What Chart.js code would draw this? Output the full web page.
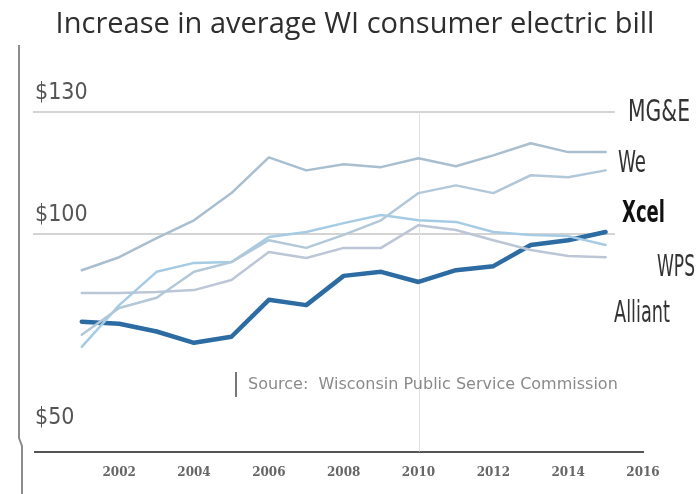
<!DOCTYPE html>
<html>
<head>
<meta charset="utf-8">
<script src="https://cdn.jsdelivr.net/npm/chart.js@4.4.0/dist/chart.umd.min.js"></script>
<style>
  html, body { margin: 0; padding: 0; background: #fff; }
  #wrap { width: 700px; height: 494px; }
</style>
</head>
<body>
<div id="wrap"><canvas id="myChart" width="700" height="494"></canvas></div>
<script>
// values (average monthly bill, $)
const years = [2001, 2002, 2003, 2004, 2005, 2006, 2007, 2008, 2009, 2010, 2011, 2012, 2013, 2014, 2015]
const mge     = [91.1, 94.3, 99.0, 103.4, 110.1, 118.9, 115.7, 117.2, 116.5, 118.7, 116.7, 119.4, 122.4, 120.2, 120.2]
const we      = [75.2, 81.8, 84.3, 90.7, 93.1, 98.5, 96.6, 99.8, 103.4, 110.1, 112.0, 110.1, 114.5, 114.0, 115.7]
const wps     = [72.2, 82.5, 90.7, 92.9, 93.1, 99.3, 100.5, 102.7, 104.7, 103.4, 103.0, 100.5, 99.8, 99.5, 97.3]
const alliant = [85.5, 85.5, 85.7, 86.2, 88.7, 95.6, 94.1, 96.6, 96.6, 102.2, 101.0, 98.5, 96.1, 94.6, 94.3]
const xcel    = [78.4, 77.9, 76.0, 73.2, 74.7, 83.8, 82.5, 89.7, 90.7, 88.2, 91.1, 92.1, 97.3, 98.5, 100.5]

const yTicks = [50, 100, 130]
const gridValues = [100, 130]
const xTicks = [2002, 2004, 2006, 2008, 2010, 2012, 2014, 2016]
const titleText = 'Increase in average WI consumer electric bill'
const sourceText = 'Source:  Wisconsin Public Service Commission'

// name labels at the right end (w = width the narrow type should take)
const seriesLabels = [
  { text: 'MG&E', x: 628, y: 113, w: 62, bold: false },
  { text: 'We', x: 618, y: 164, w: 28, bold: false },
  { text: 'Xcel', x: 622, y: 214, w: 43, bold: true },
  { text: 'WPS', x: 657, y: 268, w: 38, bold: false },
  { text: 'Alliant', x: 614, y: 314, w: 56, bold: false }
]

function pts(arr) {
  return arr.map((v, i) => ({ x: years[i], y: v }))
}

// title, gridlines, 2010 line, source note, frame line, names
const extras = {
  id: 'extras',
  beforeDatasetsDraw(chart) {
    const ctx = chart.ctx
    const xs = chart.scales.x
    const ys = chart.scales.y
    const left = chart.chartArea.left - 2
    const right = xs.getPixelForValue(2015.25)
    ctx.save()

    // title (the picture has it a bit right of the plot centre)
    ctx.fillStyle = '#2e2e2e'
    ctx.font = '29px "Open Sans"'
    ctx.textAlign = 'center'
    ctx.textBaseline = 'alphabetic'
    ctx.fillText(titleText, 355, 33)

    ctx.strokeStyle = '#d4d4d4'
    ctx.lineWidth = 2
    gridValues.forEach(v => {
      const y = Math.round(ys.getPixelForValue(v))
      ctx.beginPath()
      ctx.moveTo(left, y)
      ctx.lineTo(right, y)
      ctx.stroke()
    })
    // 2010 vertical
    ctx.strokeStyle = '#e0e0e0'
    ctx.lineWidth = 1
    const vx = Math.round(xs.getPixelForValue(2010)) + 0.5
    ctx.beginPath()
    ctx.moveTo(vx, ys.getPixelForValue(130))
    ctx.lineTo(vx, chart.chartArea.bottom)
    ctx.stroke()

    // source note
    ctx.strokeStyle = '#777'
    ctx.lineWidth = 2
    ctx.beginPath()
    ctx.moveTo(236, 372)
    ctx.lineTo(236, 397)
    ctx.stroke()
    ctx.fillStyle = '#8a8a8a'
    ctx.font = '16px "DejaVu Sans"'
    ctx.textBaseline = 'middle'
    ctx.textAlign = 'left'
    ctx.fillText(sourceText, 248, 385)

    // frame line on the left
    ctx.strokeStyle = '#8c8c8c'
    ctx.lineWidth = 2
    ctx.beginPath()
    ctx.moveTo(19, 45)
    ctx.lineTo(19, 438)
    ctx.lineTo(22, 446)
    ctx.lineTo(22, 494)
    ctx.stroke()
    ctx.restore()
  },
  afterDatasetsDraw(chart) {
    const ctx = chart.ctx
    ctx.save()
    ctx.textBaseline = 'middle'
    ctx.textAlign = 'left'
    seriesLabels.forEach(l => {
      ctx.save()
      ctx.font = (l.bold ? 'bold ' : '') + '31px "DejaVu Sans Condensed"'
      const sx = l.w / ctx.measureText(l.text).width
      ctx.translate(l.x, l.y)
      ctx.scale(sx, 1)
      ctx.fillStyle = l.bold ? '#111' : '#333'
      ctx.fillText(l.text, 0, 0)
      ctx.restore()
    })
    ctx.restore()
  }
}

const config = {
  type: 'line',
  data: {
    datasets: [
      { label: 'MG&E', data: pts(mge), borderColor: '#a9bfcf', borderWidth: 2.5 },
      { label: 'We', data: pts(we), borderColor: '#b2c8d9', borderWidth: 2.5 },
      { label: 'WPS', data: pts(wps), borderColor: '#a6cbe4', borderWidth: 2.5 },
      { label: 'Alliant', data: pts(alliant), borderColor: '#bcc6d6', borderWidth: 2.5 },
      { label: 'Xcel', data: pts(xcel), borderColor: '#2c6ca3', borderWidth: 4.5 }
    ]
  },
  options: {
    responsive: false,
    animation: false,
    elements: { point: { radius: 0 }, line: { tension: 0, borderCapStyle: 'round', borderJoinStyle: 'round' } },
    layout: { padding: { left: 35, right: 57, top: 88, bottom: 0 } },
    plugins: {
      legend: { display: false },
      tooltip: { enabled: false },
      title: { display: false }
    },
    scales: {
      x: {
        type: 'linear',
        min: 1999.75,
        max: 2016,
        afterBuildTicks: axis => { axis.ticks = xTicks.map(v => ({ value: v })) },
        grid: { display: false, drawTicks: false },
        border: { display: true, color: '#555', width: 2 },
        ticks: {
          color: '#666',
          padding: 14,
          maxRotation: 0,
          font: { family: '"DejaVu Serif"', size: 12, weight: 'bold' },
          callback: v => String(v)
        }
      },
      y: {
        min: 46.4,
        max: 136,
        afterBuildTicks: axis => { axis.ticks = yTicks.map(v => ({ value: v })) },
        grid: { display: false, drawTicks: false },
        border: { display: false },
        ticks: {
          mirror: true,
          padding: 0,
          labelOffset: -19,
          color: '#555',
          font: { family: '"DejaVu Sans Condensed"', size: 23 },
          callback: v => '$' + v
        }
      }
    }
  },
  plugins: [extras]
}

const myChart = new Chart(document.getElementById('myChart'), config)
</script>
</body>
</html>
